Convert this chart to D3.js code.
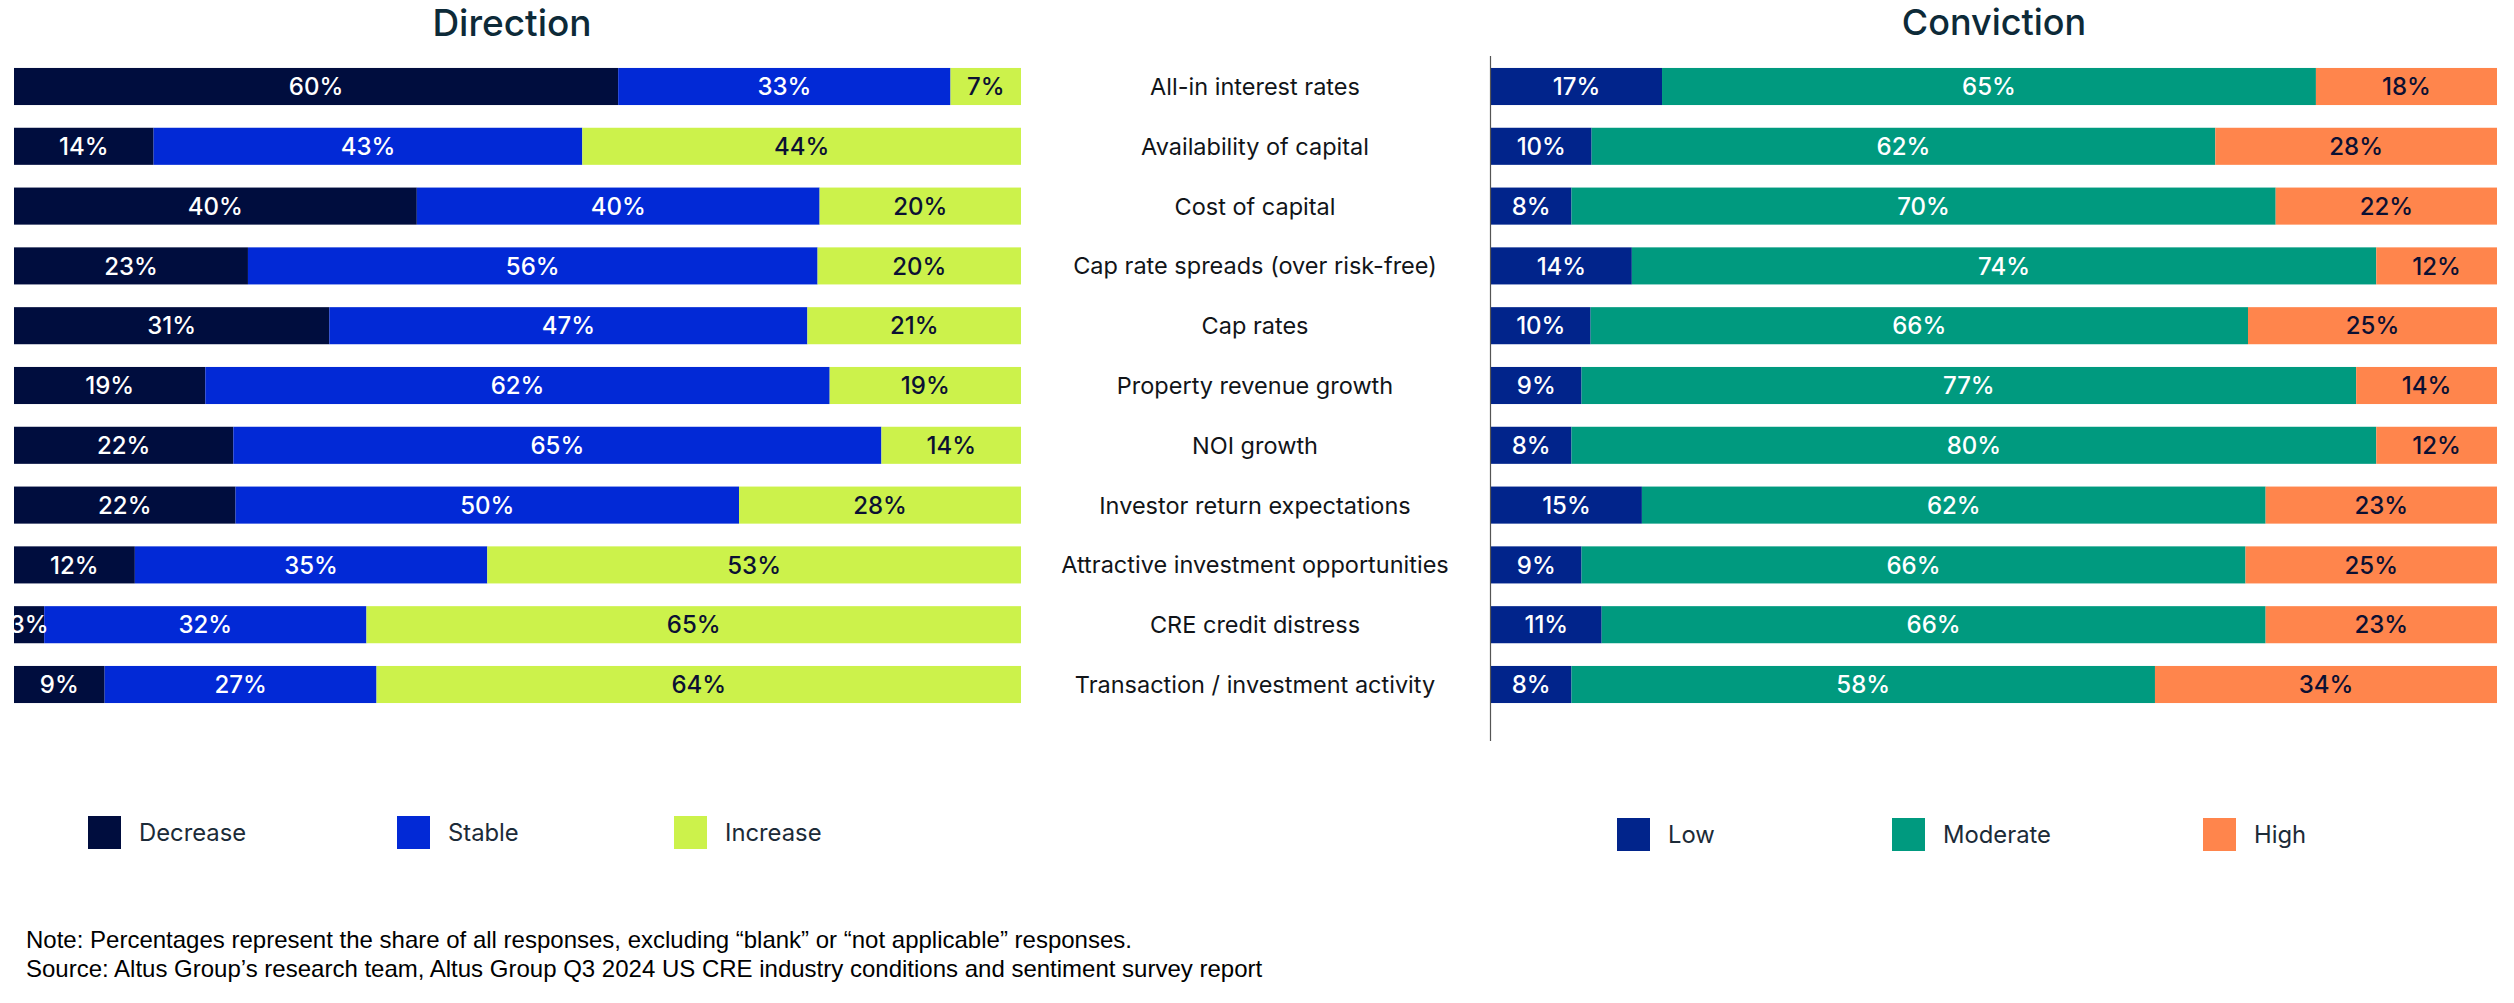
<!DOCTYPE html>
<html>
<head>
<meta charset="utf-8">
<script src="https://cdn.jsdelivr.net/npm/d3@7"></script>
<style>
  html, body { margin: 0; padding: 0; background: #ffffff; }
  svg { display: block; }
</style>
</head>
<body>
<svg id="chart" width="2514" height="1003"></svg>
<script>
// ---------------- DATA ----------------
const categories = [
  "All-in interest rates",
  "Availability of capital",
  "Cost of capital",
  "Cap rate spreads (over risk-free)",
  "Cap rates",
  "Property revenue growth",
  "NOI growth",
  "Investor return expectations",
  "Attractive investment opportunities",
  "CRE credit distress",
  "Transaction / investment activity"
];
const directionKeys = ["Decrease", "Stable", "Increase"];
const decrease = [60, 14, 40, 23, 31, 19, 22, 22, 12, 3, 9];
const stable   = [33, 43, 40, 56, 47, 62, 65, 50, 35, 32, 27];
const increase = [7, 44, 20, 20, 21, 19, 14, 28, 53, 65, 64];

const convictionKeys = ["Low", "Moderate", "High"];
const low      = [17, 10, 8, 14, 10, 9, 8, 15, 9, 11, 8];
const moderate = [65, 62, 70, 74, 66, 77, 80, 62, 66, 66, 58];
const high     = [18, 28, 22, 12, 25, 14, 12, 23, 25, 23, 34];

const titles = ["Direction", "Conviction"];
const noteLines = [
  "Note: Percentages represent the share of all responses, excluding \u201cblank\u201d or \u201cnot applicable\u201d responses.",
  "Source: Altus Group\u2019s research team, Altus Group Q3 2024 US CRE industry conditions and sentiment survey report"
];

// ---------------- STYLE ----------------
const dirColors = { Decrease: "#000d3e", Stable: "#0229d6", Increase: "#ccf24b" };
const dirText   = { Decrease: "#ffffff", Stable: "#ffffff", Increase: "#0b1033" };
const convColors = { Low: "#01248b", Moderate: "#009a7f", High: "#ff854c" };
const convText   = { Low: "#ffffff", Moderate: "#ffffff", High: "#0b1033" };
const uiFont = "Inter, 'Noto Sans', sans-serif";

const svg = d3.select("#chart");

const directionRows = categories.map((c, i) => ({ cat: c, Decrease: decrease[i], Stable: stable[i], Increase: increase[i] }));
const convictionRows = categories.map((c, i) => ({ cat: c, Low: low[i], Moderate: moderate[i], High: high[i] }));

const y = d3.scaleBand()
  .domain(categories)
  .range([56.6, 714.4])
  .paddingInner(0.38)
  .paddingOuter(0.19);

function drawPanel(rows, keys, colors, textColors, x0, x1) {
  const x = d3.scaleLinear().domain([0, 1]).range([x0, x1]);
  const stack = d3.stack().keys(keys).offset(d3.stackOffsetExpand);
  const series = stack(rows);
  const segs = series.flatMap(s => s.map(d => ({ key: s.key, d })));
  const g = svg.append("g");
  g.append("g").selectAll("rect")
    .data(segs)
    .join("rect")
    .attr("x", o => x(o.d[0]))
    .attr("y", o => y(o.d.data.cat))
    .attr("width", o => x(o.d[1]) - x(o.d[0]))
    .attr("height", y.bandwidth())
    .attr("fill", o => colors[o.key]);
  g.append("g").selectAll("text")
    .data(segs)
    .join("text")
    .attr("x", o => (x(o.d[0]) + x(o.d[1])) / 2)
    .attr("y", o => y(o.d.data.cat) + y.bandwidth() / 2)
    .attr("dy", "0.36em")
    .attr("text-anchor", "middle")
    .attr("font-family", uiFont)
    .attr("font-size", 24)
    .attr("font-weight", 500)
    .attr("fill", o => textColors[o.key])
    .text(o => o.d.data[o.key] + "%");
  return x;
}

drawPanel(directionRows, directionKeys, dirColors, dirText, 14, 1021);
drawPanel(convictionRows, convictionKeys, convColors, convText, 1491, 2497);

// axis line of conviction panel
svg.append("line")
  .attr("x1", 1490.5).attr("x2", 1490.5)
  .attr("y1", 56).attr("y2", 741)
  .attr("stroke", "#555").attr("stroke-width", 1.2);

// category labels
svg.append("g").selectAll("text")
  .data(categories)
  .join("text")
  .attr("x", 1255)
  .attr("y", d => y(d) + y.bandwidth() / 2)
  .attr("dy", "0.36em")
  .attr("text-anchor", "middle")
  .attr("font-family", uiFont)
  .attr("font-size", 23.5)
  .attr("fill", "#111418")
  .text(d => d);

// titles
svg.append("text")
  .attr("x", 512).attr("y", 36)
  .attr("text-anchor", "middle")
  .attr("font-family", uiFont).attr("font-size", 37).attr("font-weight", 500)
  .attr("fill", "#0d2a38")
  .text(titles[0]);
svg.append("text")
  .attr("x", 1994).attr("y", 35)
  .attr("text-anchor", "middle")
  .attr("font-family", uiFont).attr("font-size", 36).attr("font-weight", 500)
  .attr("fill", "#0d2a38")
  .text(titles[1]);

// legends
function legend(keys, colors, xs, yTop) {
  const g = svg.append("g");
  const items = g.selectAll("g").data(keys).join("g")
    .attr("transform", (d, i) => `translate(${xs[i]},${yTop})`);
  items.append("rect").attr("width", 33).attr("height", 33).attr("fill", d => colors[d]);
  items.append("text")
    .attr("x", 51).attr("y", 25)
    .attr("font-family", uiFont).attr("font-size", 23.8)
    .attr("fill", "#1c2b38")
    .text(d => d);
}
legend(directionKeys, dirColors, [88, 397, 674], 816);
legend(convictionKeys, convColors, [1617, 1892, 2203], 818);

// notes
svg.append("g").selectAll("text").data(noteLines).join("text")
  .attr("x", 26)
  .attr("y", (d, i) => 948 + i * 29)
  .attr("font-family", "'Liberation Sans', Arial, sans-serif")
  .attr("font-size", 24)
  .attr("fill", "#000000")
  .text(d => d);
</script>
</body>
</html>
